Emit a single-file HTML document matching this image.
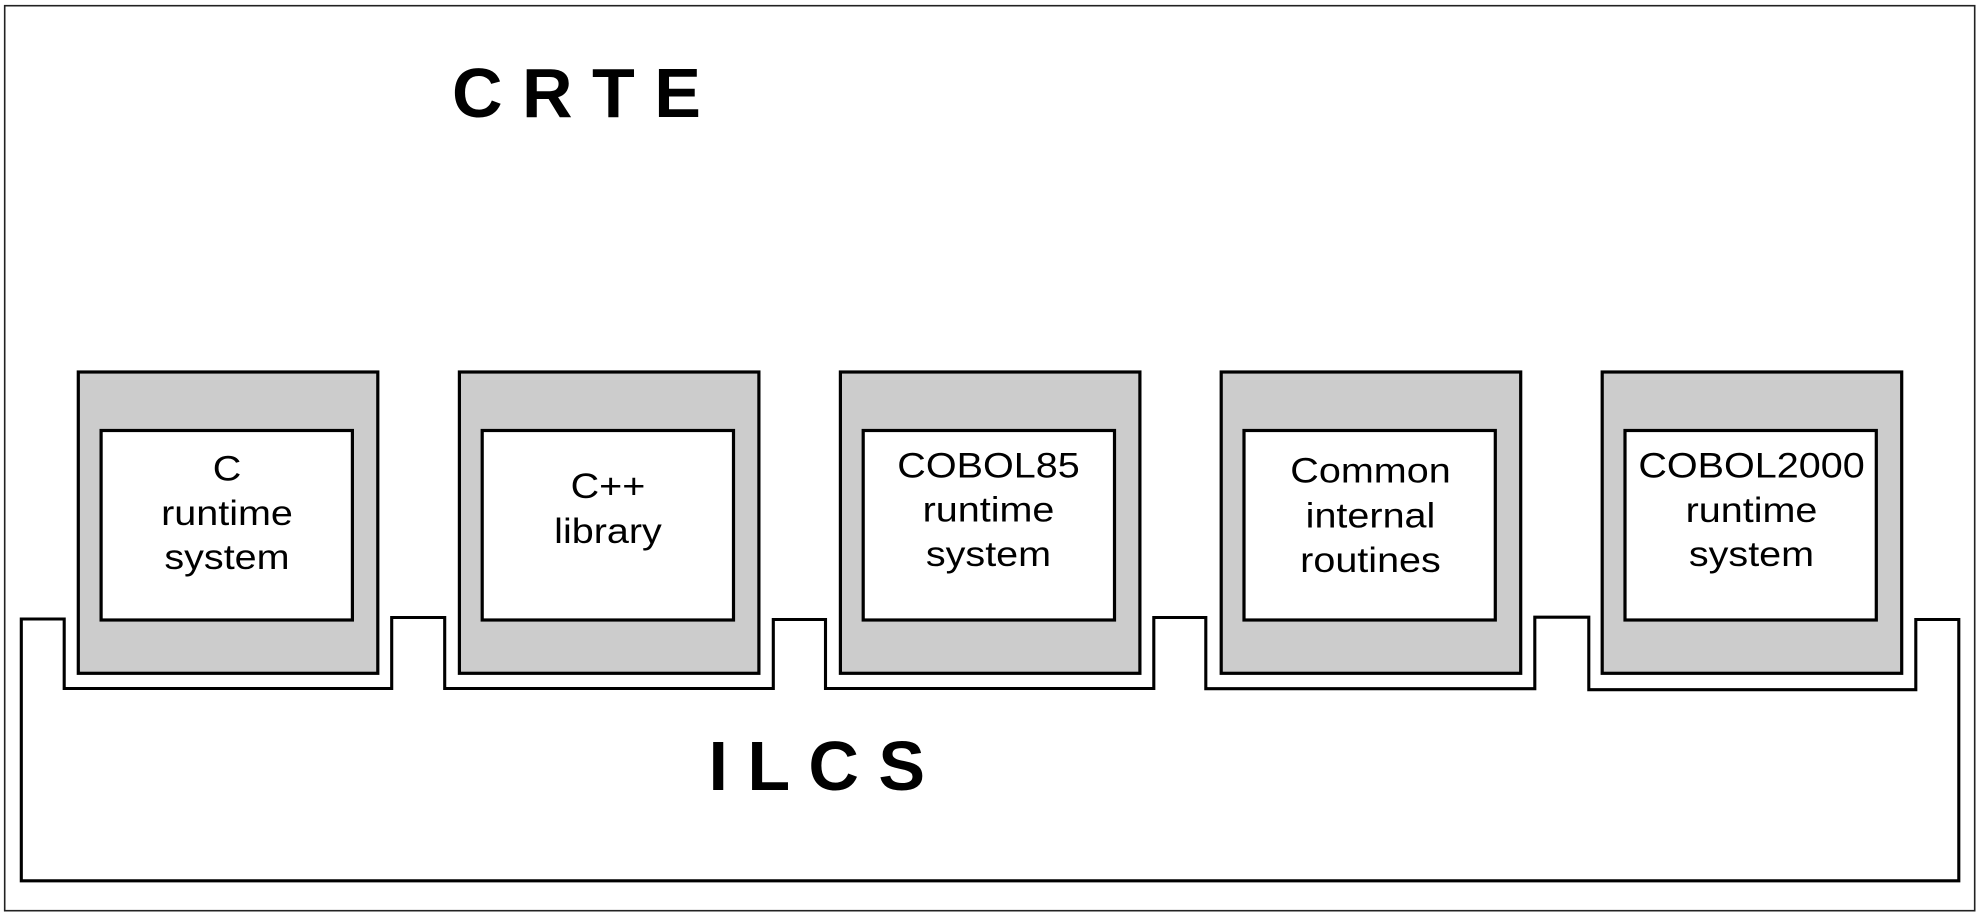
<!DOCTYPE html>
<html>
<head>
<meta charset="utf-8">
<style>
  html,body{margin:0;padding:0;background:#fff;}
  body{width:1981px;height:917px;overflow:hidden;}
  svg{display:block;}
  .lbl{font-family:"Liberation Sans",Arial,sans-serif;font-size:35px;fill:#000;}
  .big{font-family:"Liberation Sans",Arial,sans-serif;font-size:70px;font-weight:bold;fill:#000;}
</style>
</head>
<body>
<svg width="1981" height="917" viewBox="0 0 1981 917" xmlns="http://www.w3.org/2000/svg">
  <rect x="0" y="0" width="1981" height="917" fill="#fff"/>
  <!-- outer frame -->
  <rect x="4.7" y="5.7" width="1970" height="905" fill="none" stroke="#222" stroke-width="1.6"/>

  <!-- CRTE title -->
  <text class="big" x="452" y="117" xml:space="preserve">C R T E</text>

  <!-- ILCS outline -->
  <path d="M21.3,619 L64.2,619 L64.2,688.5 L391.7,688.5 L391.7,617.5 L444.7,617.5 L444.7,688.5 L773.3,688.5 L773.3,619.5 L825.5,619.5 L825.5,688.5 L1153.8,688.5 L1153.8,617.5 L1205.8,617.5 L1205.8,688.7 L1534.8,688.7 L1534.8,617.2 L1588.8,617.2 L1588.8,689.7 L1915.8,689.7 L1915.8,619.5 L1958.8,619.5 L1958.8,880.8 L21.3,880.8 Z"
        fill="none" stroke="#000" stroke-width="3.1" stroke-linejoin="miter"/>

  <text class="big" x="708.5" y="790" xml:space="preserve">I L C S</text>

  <!-- boxes -->
  <g stroke="#000" stroke-width="3.2">
    <rect x="78.3" y="372" width="299.5" height="301.3" fill="#cccccc"/>
    <rect x="101.1" y="430.5" width="251.3" height="189.5" fill="#fff"/>

    <rect x="459.4" y="372" width="299.5" height="301.3" fill="#cccccc"/>
    <rect x="482.2" y="430.5" width="251.3" height="189.5" fill="#fff"/>

    <rect x="840.4" y="372" width="299.5" height="301.3" fill="#cccccc"/>
    <rect x="863.2" y="430.5" width="251.3" height="189.5" fill="#fff"/>

    <rect x="1221.2" y="372" width="299.5" height="301.3" fill="#cccccc"/>
    <rect x="1244" y="430.5" width="251.3" height="189.5" fill="#fff"/>

    <rect x="1602.2" y="372" width="299.5" height="301.3" fill="#cccccc"/>
    <rect x="1625" y="430.5" width="251.3" height="189.5" fill="#fff"/>
  </g>

  <!-- box labels -->
  <g class="lbl" text-anchor="middle">
    <text transform="translate(227,480.5) scale(1.13,1)">C</text>
    <text transform="translate(227,525) scale(1.13,1)">runtime</text>
    <text transform="translate(227,569) scale(1.13,1)">system</text>

    <text transform="translate(608,498) scale(1.13,1)">C++</text>
    <text transform="translate(608,543) scale(1.13,1)">library</text>

    <text transform="translate(988.5,477.3) scale(1.13,1)">COBOL85</text>
    <text transform="translate(988.5,521.7) scale(1.13,1)">runtime</text>
    <text transform="translate(988.5,566) scale(1.13,1)">system</text>

    <text transform="translate(1370.5,482.7) scale(1.13,1)">Common</text>
    <text transform="translate(1370.5,527.5) scale(1.13,1)">internal</text>
    <text transform="translate(1370.5,572) scale(1.13,1)">routines</text>

    <text transform="translate(1751.5,477.3) scale(1.13,1)">COBOL2000</text>
    <text transform="translate(1751.5,522) scale(1.13,1)">runtime</text>
    <text transform="translate(1751.5,566) scale(1.13,1)">system</text>
  </g>
</svg>
</body>
</html>
